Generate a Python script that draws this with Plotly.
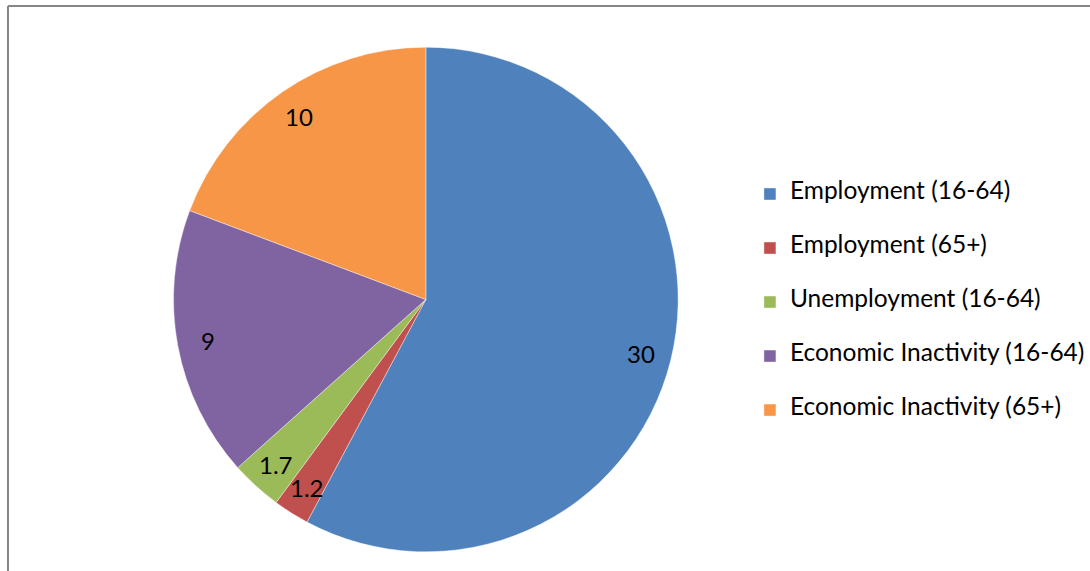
import math
import plotly.graph_objects as go

categories = ["Employment (16-64)", "Employment (65+)", "Unemployment (16-64)",
              "Economic Inactivity (16-64)", "Economic Inactivity (65+)"]
values = [30, 1.2, 1.7, 9, 10]
value_labels = ["30", "1.2", "1.7", "9", "10"]
colors = ["#4F81BD", "#C0504D", "#9BBB59", "#8064A2", "#F79646"]

W, H = 1090, 571
CX, CY, R = 427, 299.5, 253
LABEL_FRAC = 0.88

legend_fs = 13.08
legend_labels = ["&nbsp;<br><span style='font-size:24.5px'>%s</span><br>&nbsp;" % c for c in categories]

fig = go.Figure()
fig.add_trace(go.Pie(
    labels=legend_labels,
    values=values,
    sort=False,
    direction="clockwise",
    rotation=0,
    textinfo="none",
    hoverinfo="skip",
    marker=dict(colors=colors, line=dict(color="rgba(255,255,255,0.5)", width=0.8)),
    domain=dict(x=[(CX - R) / W, (CX + R) / W], y=[1 - (CY + R) / H, 1 - (CY - R) / H]),
))

# data labels placed along each slice's mid-angle
total = sum(values)
cum = 0.0
annotations = []
for v, lab in zip(values, value_labels):
    mid = (cum + v / 2) / total * 2 * math.pi
    cum += v
    px = CX + LABEL_FRAC * R * math.sin(mid)
    py = CY - LABEL_FRAC * R * math.cos(mid)
    annotations.append(dict(x=px / W, y=1 - py / H, xref="paper", yref="paper",
                            xanchor="center", yanchor="middle",
                            text=lab, showarrow=False,
                            font=dict(family="Lato", size=24, color="#000000")))

fig.update_layout(
    width=W, height=H,
    margin=dict(l=0, r=0, t=0, b=0),
    paper_bgcolor="white",
    plot_bgcolor="white",
    font=dict(family="Lato", color="#000000"),
    showlegend=True,
    legend=dict(x=752 / W, y=1 - 162 / H, xanchor="left", yanchor="top",
                font=dict(family="Lato", size=legend_fs, color="#000000"),
                bgcolor="rgba(0,0,0,0)", valign="middle"),
    annotations=annotations,
    shapes=[
        dict(type="line", xref="paper", yref="paper", x0=8 / W, x1=1.02, y0=1 - 6 / H, y1=1 - 6 / H,
             line=dict(color="#868686", width=2)),
        dict(type="line", xref="paper", yref="paper", x0=8 / W, x1=8 / W, y0=1 - 6 / H, y1=-0.02,
             line=dict(color="#868686", width=2)),
    ],
)

fig.write_html("out.html", config={"displayModeBar": False},
               post_script="document.body.style.margin='0';document.body.style.overflow='hidden';")
